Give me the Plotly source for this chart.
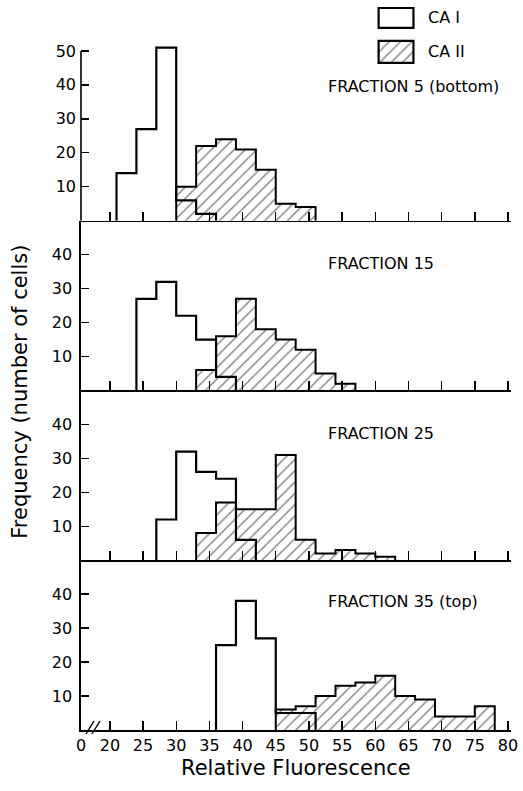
import plotly.graph_objects as go

# ---------------- data (bin width 3 units of relative fluorescence) ----------------
BIN_WIDTH = 3
panel_titles = ["FRACTION 5 (bottom)", "FRACTION 15", "FRACTION 25", "FRACTION 35 (top)"]

# CA I : first bin left edge and counts
f5_ca1_start, f5_ca1 = 21, [14, 27, 51, 6, 2]
f15_ca1_start, f15_ca1 = 24, [27, 32, 22, 15, 4]
f25_ca1_start, f25_ca1 = 27, [12, 32, 26, 24, 6]
f35_ca1_start, f35_ca1 = 36, [25, 38, 27, 5, 5]

# CA II : first bin left edge and counts
f5_ca2_start, f5_ca2 = 30, [10, 22, 24, 21, 15, 5, 4]
f15_ca2_start, f15_ca2 = 33, [6, 16, 27, 18, 15, 12, 5, 2]
f25_ca2_start, f25_ca2 = 33, [8, 17, 15, 15, 31, 6, 2, 3, 2, 1]
f35_ca2_start, f35_ca2 = 45, [6, 7, 10, 13, 14, 16, 10, 9, 4, 4, 7]

x_tick_vals = [20, 25, 30, 35, 40, 45, 50, 55, 60, 65, 70, 75, 80]
y_tick_vals_top = [10, 20, 30, 40, 50]
y_tick_vals = [10, 20, 30, 40]

ca1_series = [(f5_ca1_start, f5_ca1), (f15_ca1_start, f15_ca1),
              (f25_ca1_start, f25_ca1), (f35_ca1_start, f35_ca1)]
ca2_series = [(f5_ca2_start, f5_ca2), (f15_ca2_start, f15_ca2),
              (f25_ca2_start, f25_ca2), (f35_ca2_start, f35_ca2)]

# ---------------- layout geometry ----------------
W, H = 523, 791
ML, MR, MT, MB = 81, 10, 5, 61
PW = W - ML - MR
PH = H - MT - MB
X_ORIGIN = 15.65          # axis break: the left edge is labelled "0"
X_RANGE = [X_ORIGIN, 80.45]
PANEL_PX = 170
Y_MAX = 50
TOP_Y_MAX = 52.5          # top panel gets a little headroom for the tallest bin


def py(px):  # page y pixel -> paper y
    return (H - MB - px) / PH


def pxx(px):  # page x pixel -> paper x
    return (px - ML) / PW


FONT = "DejaVu Sans"
HATCH = dict(shape="/", fgcolor="black", bgcolor="white", size=8, solidity=0.17)

fig = go.Figure()
layout = dict(
    width=W, height=H,
    margin=dict(l=ML, r=MR, t=MT, b=MB),
    paper_bgcolor="white", plot_bgcolor="white",
    font=dict(family=FONT, size=16, color="black"),
    showlegend=False, bargap=0,
)

label_y = [39.5, 37.5, 37.2, 37.7]
annotations = []
shapes = []

for i in range(4):
    n = i + 1
    xa = "x" if n == 1 else f"x{n}"
    ya = "y" if n == 1 else f"y{n}"
    bottom = (3 - i) * PANEL_PX / PH
    top = (4 - i) * PANEL_PX / PH
    ymax = Y_MAX
    if i == 0:
        ymax = TOP_Y_MAX
        top = bottom + (PANEL_PX * TOP_Y_MAX / Y_MAX) / PH

    s2, c2 = ca2_series[i]
    edges2 = [s2 + k * BIN_WIDTH for k in range(len(c2) + 1)]
    centers2 = [s2 + (k + 0.5) * BIN_WIDTH for k in range(len(c2))]
    fig.add_trace(go.Bar(
        x=centers2, y=c2, width=BIN_WIDTH, xaxis=xa, yaxis=ya,
        marker=dict(color="white", line=dict(width=0), pattern=HATCH),
        hoverinfo="skip"))
    fig.add_trace(go.Scatter(
        x=[edges2[0]] + edges2, y=[0] + c2 + [0], mode="lines",
        line=dict(shape="hv", color="black", width=2),
        xaxis=xa, yaxis=ya, hoverinfo="skip"))

    s1, c1 = ca1_series[i]
    edges1 = [s1 + k * BIN_WIDTH for k in range(len(c1) + 1)]
    fig.add_trace(go.Scatter(
        x=[edges1[0]] + edges1, y=[0] + c1 + [0], mode="lines",
        line=dict(shape="hv", color="black", width=2.2),
        xaxis=xa, yaxis=ya, hoverinfo="skip"))

    is_bottom = (i == 3)
    layout["xaxis" if n == 1 else f"xaxis{n}"] = dict(
        domain=[0, 1], anchor=ya, range=X_RANGE,
        showline=True, linecolor="black", linewidth=1.6,
        ticks="inside", ticklen=9, tickwidth=1.4, tickcolor="black",
        tickvals=([X_ORIGIN] + x_tick_vals) if is_bottom else x_tick_vals,
        ticktext=(["0"] + [str(v) for v in x_tick_vals]) if is_bottom else None,
        showticklabels=is_bottom, showgrid=False, zeroline=False,
        tickfont=dict(family=FONT, size=16, color="black"),
        fixedrange=True,
    )
    layout["yaxis" if n == 1 else f"yaxis{n}"] = dict(
        domain=[bottom, top], anchor=xa, range=[0, ymax],
        showline=(i != 0), linecolor="black", linewidth=1.6,
        ticks="inside", ticklen=8, tickwidth=1.4, tickcolor="black",
        tickvals=y_tick_vals_top if i == 0 else y_tick_vals,
        showgrid=False, zeroline=False, ticklabelstandoff=4,
        tickfont=dict(family=FONT, size=16, color="black"),
        fixedrange=True,
    )
    if i == 0:
        # left axis line of the top panel ends at the 50 tick
        shapes.append(dict(type="line", xref="x domain", yref="y", x0=0, x1=0,
                           y0=0, y1=Y_MAX, line=dict(color="black", width=1.6)))
    annotations.append(dict(
        text=panel_titles[i], xref=xa, yref=ya, x=52.5, y=label_y[i],
        xanchor="left", yanchor="middle", showarrow=False,
        font=dict(family=FONT, size=16, color="black")))

# ---------------- legend key (CA II hatched box on its own small axes) ----------------
leg_x = [pxx(380), pxx(415)]
leg2_y = [py(62), py(40)]
leg1_y = [py(27), py(7)]
fig.add_trace(go.Bar(
    x=[0], y=[1], width=1, xaxis="x5", yaxis="y5",
    marker=dict(color="white", line=dict(width=0), pattern=HATCH),
    hoverinfo="skip"))
layout["xaxis5"] = dict(domain=leg_x, anchor="y5", range=[-0.5, 0.5], visible=False, fixedrange=True)
layout["yaxis5"] = dict(domain=leg2_y, anchor="x5", range=[0, 1], visible=False, fixedrange=True)

shapes += [
    dict(type="rect", xref="paper", yref="paper", x0=leg_x[0], x1=leg_x[1],
         y0=leg1_y[0], y1=leg1_y[1], line=dict(color="black", width=2.2)),
    dict(type="rect", xref="paper", yref="paper", x0=leg_x[0], x1=leg_x[1],
         y0=leg2_y[0], y1=leg2_y[1], line=dict(color="black", width=2.2)),
    # axis break marks
    dict(type="line", xref="paper", yref="paper", x0=pxx(86), y0=py(734),
         x1=pxx(94), y1=py(721), line=dict(color="black", width=1.4)),
    dict(type="line", xref="paper", yref="paper", x0=pxx(92), y0=py(734),
         x1=pxx(100), y1=py(721), line=dict(color="black", width=1.4)),
]

annotations += [
    dict(text="CA I", xref="paper", yref="paper", x=pxx(428), y=py(17),
         xanchor="left", yanchor="middle", showarrow=False,
         font=dict(family=FONT, size=16, color="black")),
    dict(text="CA II", xref="paper", yref="paper", x=pxx(428), y=py(51),
         xanchor="left", yanchor="middle", showarrow=False,
         font=dict(family=FONT, size=16, color="black")),
    dict(text="Frequency (number of cells)", xref="paper", yref="paper",
         x=pxx(20), y=py(391), textangle=-90, xanchor="center", yanchor="middle",
         showarrow=False, font=dict(family=FONT, size=21, color="black")),
    dict(text="Relative Fluorescence", xref="paper", yref="paper",
         x=pxx(297), y=py(768), xanchor="center", yanchor="middle",
         showarrow=False, font=dict(family=FONT, size=21, color="black")),
]

layout["annotations"] = annotations
layout["shapes"] = shapes
fig.update_layout(**layout)
fig.write_html("out.html", config={"displayModeBar": False, "staticPlot": True},
               post_script="document.body.style.margin='0';")
